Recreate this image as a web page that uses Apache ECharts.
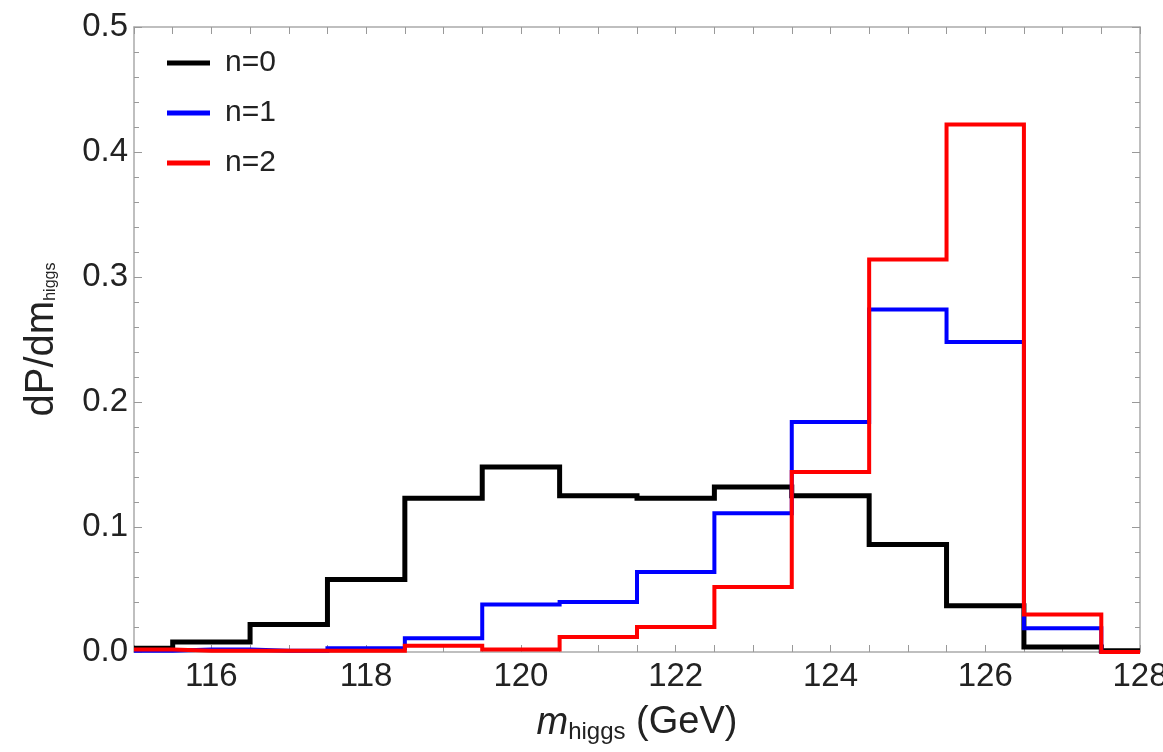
<!DOCTYPE html>
<html>
<head>
<meta charset="utf-8">
<script src="https://cdn.jsdelivr.net/npm/echarts@6/dist/echarts.min.js"></script>
<style>
html,body{margin:0;padding:0;background:#fff;}
#chart{width:1163px;height:752px;}
</style>
</head>
<body>
<div id="chart"></div>
<script>
// Bin centres (GeV), bins are 1 GeV wide
const binCenters = [115, 116, 117, 118, 119, 120, 121, 122, 123, 124, 125, 126, 127, 128];
// dP/dm_higgs for each n
const n0 = [0.003, 0.008, 0.022, 0.058, 0.123, 0.148, 0.125, 0.123, 0.132, 0.125, 0.086, 0.037, 0.004, 0.001];
const n1 = [0.001, 0.002, 0.001, 0.003, 0.011, 0.038, 0.040, 0.064, 0.111, 0.184, 0.274, 0.248, 0.019, 0.000];
const n2 = [0.002, 0.001, 0.001, 0.001, 0.005, 0.002, 0.012, 0.020, 0.052, 0.144, 0.314, 0.422, 0.030, 0.000];
const seriesNames = ['n=0', 'n=1', 'n=2'];
const seriesColors = ['#000000', '#0000ff', '#ff0000'];
const xTickLabels = [116, 118, 120, 122, 124, 126, 128];
const yTickLabels = [0.0, 0.1, 0.2, 0.3, 0.4, 0.5];

const frameColor = '#aaaaaa';
const tickColor = '#999999';
const fontFam = '"Liberation Sans", Arial, sans-serif';

const chart = echarts.init(document.getElementById('chart'));

function mkSeries(name, vals, color, width, z) {
  return {
    name: name,
    type: 'line',
    step: 'middle',
    symbol: 'none',
    showSymbol: false,
    color: color,
    z: z,
    clip: true,
    lineStyle: { color: color, width: width, join: 'miter', cap: 'butt' },
    data: binCenters.map((x, i) => [x, vals[i]])
  };
}

const xBase = {
  type: 'value', min: 115, max: 128, interval: 0.5,
  splitLine: { show: false },
  axisLine: { show: true, onZero: false, lineStyle: { color: frameColor, width: 1.5 } },
  axisTick: { show: true, inside: true, length: 7, lineStyle: { color: tickColor, width: 1 } }
};
const yBase = {
  type: 'value', min: 0, max: 0.5, interval: 0.1,
  splitLine: { show: false },
  axisLine: { show: true, onZero: false, lineStyle: { color: frameColor, width: 1.5 } },
  axisTick: { show: true, inside: true, length: 8, lineStyle: { color: tickColor, width: 1 } },
  minorTick: { show: true, splitNumber: 5, length: 5, lineStyle: { color: tickColor, width: 1 } }
};

chart.setOption({
  animation: false,
  backgroundColor: '#ffffff',
  grid: { left: 134, right: 23, top: 27, bottom: 100, containLabel: false, outerBoundsMode: 'none' },
  legend: {
    orient: 'vertical',
    left: 167, top: 48,
    padding: 0,
    icon: 'rect',
    itemWidth: 43, itemHeight: 5,
    itemGap: 20,
    data: seriesNames,
    textStyle: { fontFamily: fontFam, fontSize: 30, color: '#222', lineHeight: 30, padding: [0, 0, 0, 10] }
  },
  xAxis: [
    Object.assign({}, xBase, {
      position: 'bottom',
      axisLabel: {
        show: true,
        customValues: xTickLabels,
        formatter: v => String(v),
        fontFamily: fontFam, fontSize: 33, color: '#222', margin: 8
      },
      name: '{m|m}{s|higgs}{g| (GeV)}',
      nameLocation: 'middle',
      nameGap: 50,
      nameTextStyle: {
        rich: {
          m: { fontFamily: fontFam, fontSize: 38, fontStyle: 'italic', color: '#222' },
          s: { fontFamily: fontFam, fontSize: 24, color: '#222', padding: [18, 0, 0, 0] },
          g: { fontFamily: fontFam, fontSize: 38, color: '#222' }
        }
      }
    }),
    Object.assign({}, xBase, { position: 'top', axisLabel: { show: false } })
  ],
  yAxis: [
    Object.assign({}, yBase, {
      position: 'left',
      axisLabel: {
        show: true,
        customValues: yTickLabels,
        formatter: v => v.toFixed(1),
        fontFamily: fontFam, fontSize: 33, color: '#222', margin: 6
      },
      name: '{d|dP/dm}{s|higgs}',
      nameLocation: 'middle',
      nameGap: 72,
      nameRotate: 90,
      nameTextStyle: {
        rich: {
          d: { fontFamily: fontFam, fontSize: 40, color: '#222' },
          s: { fontFamily: fontFam, fontSize: 16, color: '#222', padding: [18, 0, 0, 0] }
        }
      }
    }),
    Object.assign({}, yBase, { position: 'right', axisLabel: { show: false } })
  ],
  series: [
    mkSeries(seriesNames[0], n0, seriesColors[0], 5, 2),
    mkSeries(seriesNames[1], n1, seriesColors[1], 4, 3),
    mkSeries(seriesNames[2], n2, seriesColors[2], 4, 4)
  ]
});
</script>
</body>
</html>
